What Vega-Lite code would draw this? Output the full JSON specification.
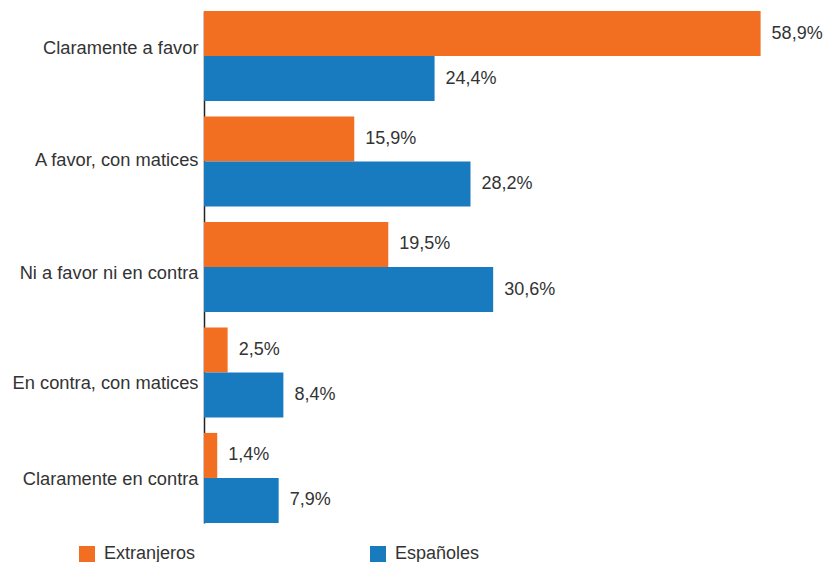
{
  "$schema": "https://vega.github.io/schema/vega-lite/v6.json",
  "width": 567,
  "height": 512,
  "autosize": {"type": "none"},
  "padding": {"left": 204, "top": 11, "right": 56, "bottom": 39},
  "config": {
    "view": {"stroke": null},
    "font": "Liberation Sans",
    "locale": {"number": {"decimal": ",", "thousands": ".", "grouping": [3], "currency": ["", " €"]}}
  },
  "data": {
    "values": [
      {"categoria": "Claramente a favor", "grupo": "Extranjeros", "valor": 0.589},
      {"categoria": "Claramente a favor", "grupo": "Españoles", "valor": 0.244},
      {"categoria": "A favor, con matices", "grupo": "Extranjeros", "valor": 0.159},
      {"categoria": "A favor, con matices", "grupo": "Españoles", "valor": 0.282},
      {"categoria": "Ni a favor ni en contra", "grupo": "Extranjeros", "valor": 0.195},
      {"categoria": "Ni a favor ni en contra", "grupo": "Españoles", "valor": 0.306},
      {"categoria": "En contra, con matices", "grupo": "Extranjeros", "valor": 0.025},
      {"categoria": "En contra, con matices", "grupo": "Españoles", "valor": 0.084},
      {"categoria": "Claramente en contra", "grupo": "Extranjeros", "valor": 0.014},
      {"categoria": "Claramente en contra", "grupo": "Españoles", "valor": 0.079}
    ]
  },
  "encoding": {
    "y": {
      "field": "categoria",
      "type": "nominal",
      "sort": ["Claramente a favor", "A favor, con matices", "Ni a favor ni en contra", "En contra, con matices", "Claramente en contra"],
      "scale": {"paddingInner": 0.146, "paddingOuter": 0},
      "axis": {
        "title": null,
        "ticks": false,
        "grid": false,
        "domain": true,
        "domainColor": "#222222",
        "domainWidth": 1.5,
        "labelPadding": 6,
        "labelFontSize": 18.3,
        "labelColor": "#333333",
        "labelLimit": 300,
        "labelOffset": {
          "condition": [
            {"test": "datum.value === 'Claramente a favor'", "value": -7},
            {"test": "datum.value === 'Ni a favor ni en contra'", "value": 7},
            {"test": "datum.value === 'En contra, con matices'", "value": 12},
            {"test": "datum.value === 'Claramente en contra'", "value": 2}
          ],
          "value": -1
        }
      }
    },
    "yOffset": {
      "field": "grupo",
      "type": "nominal",
      "sort": ["Extranjeros", "Españoles"],
      "scale": {"paddingInner": 0, "paddingOuter": 0}
    },
    "x": {
      "field": "valor",
      "type": "quantitative",
      "scale": {"domain": [0, 0.6]},
      "axis": null
    }
  },
  "layer": [
    {
      "mark": {"type": "bar"},
      "encoding": {
        "color": {
          "field": "grupo",
          "type": "nominal",
          "scale": {"domain": ["Extranjeros", "Españoles"], "range": ["#F26F22", "#187BC0"]},
          "legend": {
            "title": null,
            "orient": "none",
            "legendX": -126,
            "legendY": 534,
            "direction": "horizontal",
            "symbolType": "square",
            "symbolSize": 256,
            "symbolStrokeWidth": 0,
            "symbolOpacity": 1,
            "labelFontSize": 18,
            "labelColor": "#333333",
            "labelOffset": 8,
            "columnPadding": 173
          }
        }
      }
    },
    {
      "mark": {"type": "text", "align": "left", "baseline": "middle", "dx": 11, "fontSize": 18, "color": "#333333"},
      "encoding": {
        "text": {"field": "valor", "type": "quantitative", "format": ".1%"}
      }
    }
  ]
}
